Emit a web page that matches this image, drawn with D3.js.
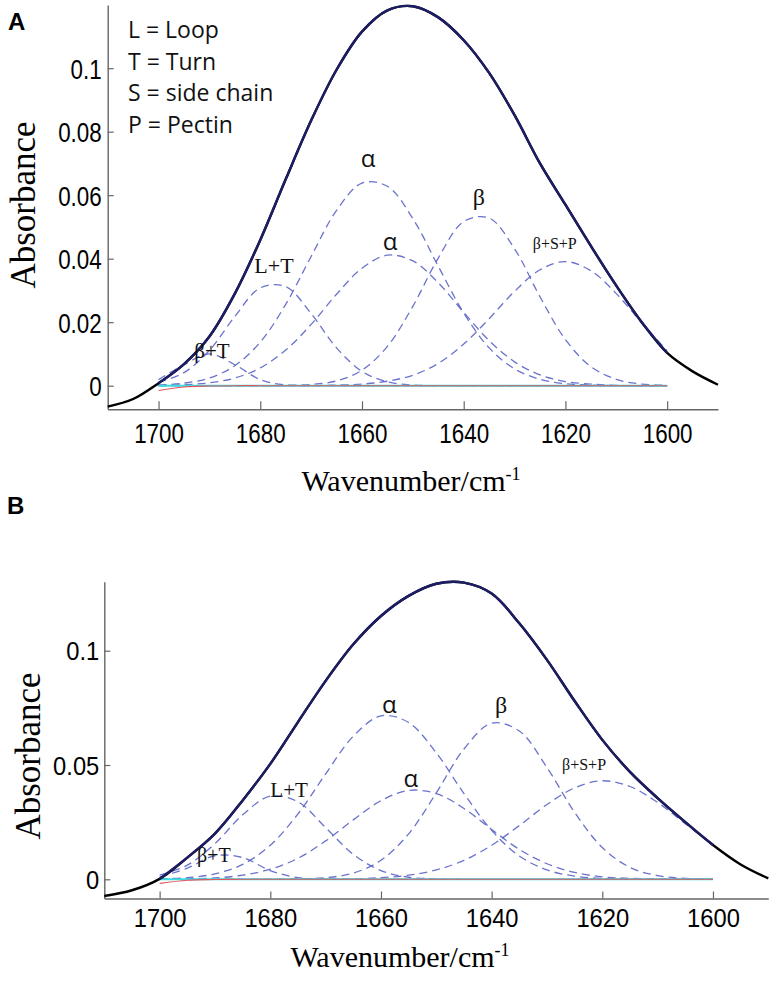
<!DOCTYPE html>
<html><head><meta charset="utf-8">
<script src="https://cdn.jsdelivr.net/npm/d3@7"></script>
<style>
body{margin:0;background:#fff}
svg{display:block}
</style></head><body>
<svg id="chart" width="777" height="983"></svg>
<script>
// ---------- data ----------
const wavenumbers = [1700,1695,1690,1685,1680,1675,1670,1665,1660,1655,1650,1645,1640,1635,1630,1625,1620,1615,1610,1605,1600];
const envWavenumbers = [1710,1705,1700,1695,1690,1685,1680,1675,1670,1665,1660,1655,1650,1645,1640,1635,1630,1625,1620,1615,1610,1605,1600,1595,1590];
const xTicks = [1700,1680,1660,1640,1620,1600];
const xTickLabels = ["1700","1680","1660","1640","1620","1600"];
const yTicksA = [0,0.02,0.04,0.06,0.08,0.1];
const yTickLabelsA = ["0","0.02","0.04","0.06","0.08","0.1"];
const yTicksB = [0,0.05,0.1];
const yTickLabelsB = ["0","0.05","0.1"];
const legendLines = ["L = Loop","T = Turn","S = side chain","P = Pectin"];

// panel A
const envelopeA = [-0.0066,-0.0042,0.0008,0.0068,0.0155,0.0290,0.0459,0.0650,0.0835,0.0995,0.1115,0.1182,0.1195,0.1160,0.1088,0.0985,0.0852,0.0700,0.0570,0.0440,0.0315,0.0200,0.0103,0.0045,0.0003];
const betaTurnA  = [0.0019,0.0066,0.0100,0.0066,0.0019,0.0002,0,0,0,0,0,0,0,0,0,0,0,0,0,0,0];
const loopTurnA  = [0.0011,0.0041,0.0111,0.0218,0.0308,0.0312,0.0227,0.0119,0.0045,0.0012,0.0002,0,0,0,0,0,0,0,0,0,0];
const alpha1A    = [0.0002,0.0008,0.0024,0.0063,0.0137,0.0256,0.0407,0.0552,0.0638,0.0628,0.0526,0.0376,0.0229,0.0119,0.0053,0.0020,0.0006,0.0002,0,0,0];
const alpha2A    = [0.0001,0.0003,0.0009,0.0024,0.0056,0.0112,0.0193,0.0288,0.0370,0.0411,0.0393,0.0324,0.0231,0.0142,0.0075,0.0034,0.0013,0.0005,0.0001,0,0];
const betaA      = [0,0,0,0,0,0.0001,0.0004,0.0015,0.0049,0.0124,0.0250,0.0402,0.0517,0.0528,0.0431,0.0280,0.0145,0.0060,0.0020,0.0005,0.0001];
const betaSPA    = [0,0,0,0,0,0,0,0.0002,0.0005,0.0014,0.0033,0.0070,0.0131,0.0211,0.0297,0.0365,0.0391,0.0362,0.0290,0.0198,0.0110];
const redBaseA   = [-0.0015,-0.0004,-0.0001,0,0,0,0,0,0,0,0,0,0,0,0,0,0,0,0,0,0];
const cyanBaseA  = [0,0,0,0,0,0,0,0,0,0,0,0,0,0,0,0,0,0,0,0,0];

// panel B
const envelopeB = [-0.0073,-0.0048,0.0002,0.0095,0.0200,0.0345,0.0505,0.0688,0.0868,0.1028,0.1152,0.1240,0.1293,0.1298,0.1250,0.1120,0.0960,0.0780,0.0610,0.0470,0.0355,0.0250,0.0150,0.0065,0.0004];
const betaTurnB  = [0.0010,0.0049,0.0103,0.0095,0.0038,0.0007,0.0001,0,0,0,0,0,0,0,0,0,0,0,0,0,0];
const loopTurnB  = [0.0018,0.0062,0.0156,0.0282,0.0364,0.0339,0.0226,0.0109,0.0038,0.0009,0.0002,0,0,0,0,0,0,0,0,0,0];
const alpha1B    = [0.0002,0.0007,0.0024,0.0065,0.0149,0.0286,0.0461,0.0626,0.0715,0.0686,0.0553,0.0375,0.0214,0.0102,0.0041,0.0014,0.0004,0.0001,0,0,0];
const alpha2B    = [0,0.0002,0.0006,0.0018,0.0044,0.0092,0.0168,0.0260,0.0344,0.0389,0.0375,0.0310,0.0218,0.0131,0.0068,0.0030,0.0011,0.0004,0.0001,0,0];
const betaB      = [0,0,0,0,0,0.0002,0.0007,0.0027,0.0083,0.0199,0.0378,0.0570,0.0683,0.0649,0.0489,0.0293,0.0139,0.0052,0.0016,0.0004,0.0001];
const betaSPB    = [0,0,0,0,0,0,0.0001,0.0002,0.0007,0.0018,0.0041,0.0083,0.0149,0.0235,0.0327,0.0400,0.0431,0.0406,0.0336,0.0243,0.0150];
const redBaseB   = [-0.0018,-0.0004,-0.0001,0,0,0,0,0,0,0,0,0,0,0,0,0,0,0,0,0,0];
const cyanBaseB  = [0,0,0,0,0,0,0,0,0,0,0,0,0,0,0,0,0,0,0,0,0];

// band annotations (data coordinates)
const bandLabelsA = [
  {text:"α", wn:1658.8, a:0.0689, kind:"sans", size:24},
  {text:"α", wn:1654.5, a:0.0427, kind:"sans", size:24},
  {text:"L+T", wn:1677.3, a:0.0355, kind:"serif", size:22},
  {text:"β+T", wn:1689.5, a:0.0087, kind:"serif", size:21},
  {text:"β", wn:1637.0, a:0.0569, kind:"serif", size:24},
  {text:"β+S+P", wn:1622.1, a:0.0431, kind:"serif", size:16}
];
const bandLabelsB = [
  {text:"α", wn:1658.5, a:0.0728, kind:"sans", size:24},
  {text:"α", wn:1654.6, a:0.0404, kind:"sans", size:24},
  {text:"L+T", wn:1676.6, a:0.0360, kind:"serif", size:21},
  {text:"β+T", wn:1690.2, a:0.0076, kind:"serif", size:20},
  {text:"β", wn:1638.3, a:0.0728, kind:"serif", size:24},
  {text:"β+S+P", wn:1623.3, a:0.0478, kind:"serif", size:16}
];

// ---------- drawing ----------
const svg = d3.select("#chart");
const axisColor = "#666";
const SANS = "'Liberation Sans', Arial, sans-serif";
const SERIF = "'Liberation Serif', 'Times New Roman', serif";
const LEG = "'Open Sans', 'Noto Sans', sans-serif";

function drawPanel(cfg) {
  const x = d3.scaleLinear().domain([1710,1590]).range(cfg.xRange);
  const y = d3.scaleLinear().domain(cfg.yDomain).range(cfg.yRange);
  const g = svg.append("g");

  // axes
  const gx = g.append("g").attr("transform", `translate(0,${cfg.yRange[0]})`)
    .call(d3.axisBottom(x).tickValues(xTicks).tickFormat((d,i)=>xTickLabels[i])
      .tickSizeInner(-cfg.xTickLen).tickSizeOuter(0));
  const gy = g.append("g").attr("transform", `translate(${cfg.xRange[0]},0)`)
    .call(d3.axisLeft(y).tickValues(cfg.yTicks).tickFormat((d,i)=>cfg.yTickLabels[i])
      .tickSizeInner(-cfg.yTickLen).tickSizeOuter(0));
  [gx, gy].forEach(a => {
    a.select(".domain").attr("stroke", axisColor).attr("stroke-width", 1.4);
    a.selectAll(".tick line").attr("stroke", axisColor).attr("stroke-width", 1.2);
  });
  gx.selectAll(".tick text")
    .attr("font-family", SANS).attr("font-size", cfg.tickFont).attr("fill", "#000")
    .attr("y", cfg.xTickTextY).attr("dy", 0)
    .style("transform-box", "fill-box").style("transform-origin", "50% 50%")
    .style("transform", `scaleX(${cfg.condense})`);
  gy.selectAll(".tick text")
    .attr("font-family", SANS).attr("font-size", cfg.tickFont).attr("fill", "#000")
    .attr("x", -cfg.yTickPad).attr("dy", "0.36em")
    .style("transform-box", "fill-box").style("transform-origin", "100% 50%")
    .style("transform", `scaleX(${cfg.condense})`);

  const line = d3.line().x(d => x(d.wn)).y(d => y(d.v)).curve(d3.curveCatmullRom.alpha(0.5));
  const zip = (xs, vs) => xs.map((wn, i) => ({wn, v: vs[i]}));

  // fitted components (dashed)
  cfg.components.forEach(c => {
    g.append("path").attr("d", line(zip(wavenumbers, c)))
      .attr("fill", "none").attr("stroke", "#5a64c6").attr("stroke-width", 1.3)
      .attr("stroke-dasharray", "8,5").attr("stroke-opacity", 0.9);
  });
  // baselines
  g.append("path").attr("d", line(zip(wavenumbers, cfg.cyan)))
    .attr("fill", "none").attr("stroke", "#3fd9e0").attr("stroke-width", 2);
  g.append("path").attr("d", line(zip(wavenumbers, cfg.red)))
    .attr("fill", "none").attr("stroke", "#e0585c").attr("stroke-width", 1.1);

  // measured spectrum (black) and fitted sum (navy)
  const env = zip(envWavenumbers, cfg.envelope);
  g.append("path").attr("d", line(env))
    .attr("fill", "none").attr("stroke", "#000").attr("stroke-width", 2.4);
  g.append("path").attr("d", line(env.filter(d => d.wn <= 1700 && d.wn >= 1600)))
    .attr("fill", "none").attr("stroke", "#1d1d66").attr("stroke-width", 2.4);

  // band labels
  cfg.labels.forEach(l => {
    g.append("text").attr("x", x(l.wn)).attr("y", y(l.a))
      .attr("text-anchor", "middle")
      .attr("font-family", l.kind === "sans" ? LEG : SERIF)
      .attr("font-size", l.size).attr("fill", "#111").text(l.text);
  });

  // axis titles
  g.append("text")
    .attr("transform", `translate(${cfg.yTitleX},${cfg.yTitleY}) rotate(-90)`)
    .attr("text-anchor", "middle").attr("font-family", SERIF).attr("font-size", 35)
    .attr("fill", "#000").text("Absorbance");
  const xt = g.append("text").attr("x", cfg.xTitleX).attr("y", cfg.xTitleY)
    .attr("text-anchor", "middle").attr("font-family", SERIF).attr("font-size", 30).attr("fill", "#000");
  xt.append("tspan").text("Wavenumber/cm");
  xt.append("tspan").attr("font-size", 18).attr("dy", -11).text("-1");

  // panel letter
  g.append("text").attr("x", cfg.letterX).attr("y", cfg.letterY)
    .attr("font-family", SANS).attr("font-weight", "bold").attr("font-size", 24)
    .attr("fill", "#000").text(cfg.letter);
  return {g, x, y};
}

const pA = drawPanel({
  xRange: [107.7, 718], yDomain: [-0.00744, 0.1199], yRange: [409.3, 5],
  yTicks: yTicksA, yTickLabels: yTickLabelsA,
  xTickLen: 8, yTickLen: 6, tickFont: 28, condense: 0.8,
  xTickTextY: 34, yTickPad: 6,
  components: [betaTurnA, loopTurnA, alpha1A, alpha2A, betaA, betaSPA],
  cyan: cyanBaseA, red: redBaseA, envelope: envelopeA, labels: bandLabelsA,
  yTitleX: 35, yTitleY: 205, xTitleX: 411, xTitleY: 491,
  letter: "A", letterX: 8, letterY: 30
});
// legend (panel A)
pA.g.append("g").selectAll("text").data(legendLines).join("text")
  .attr("x", 128).attr("y", (d, i) => 38 + i * 31.5)
  .attr("font-family", LEG).attr("font-size", 23).attr("fill", "#111").text(d => d);

drawPanel({
  xRange: [104.3, 768.3], yDomain: [-0.0084, 0.1302], yRange: [898.5, 581.7],
  yTicks: yTicksB, yTickLabels: yTickLabelsB,
  xTickLen: 7, yTickLen: 6, tickFont: 25, condense: 0.95,
  xTickTextY: 28.5, yTickPad: 5,
  components: [betaTurnB, loopTurnB, alpha1B, alpha2B, betaB, betaSPB],
  cyan: cyanBaseB, red: redBaseB, envelope: envelopeB, labels: bandLabelsB,
  yTitleX: 40, yTitleY: 756, xTitleX: 400, xTitleY: 967,
  letter: "B", letterX: 7, letterY: 514
});
</script>
</body></html>
